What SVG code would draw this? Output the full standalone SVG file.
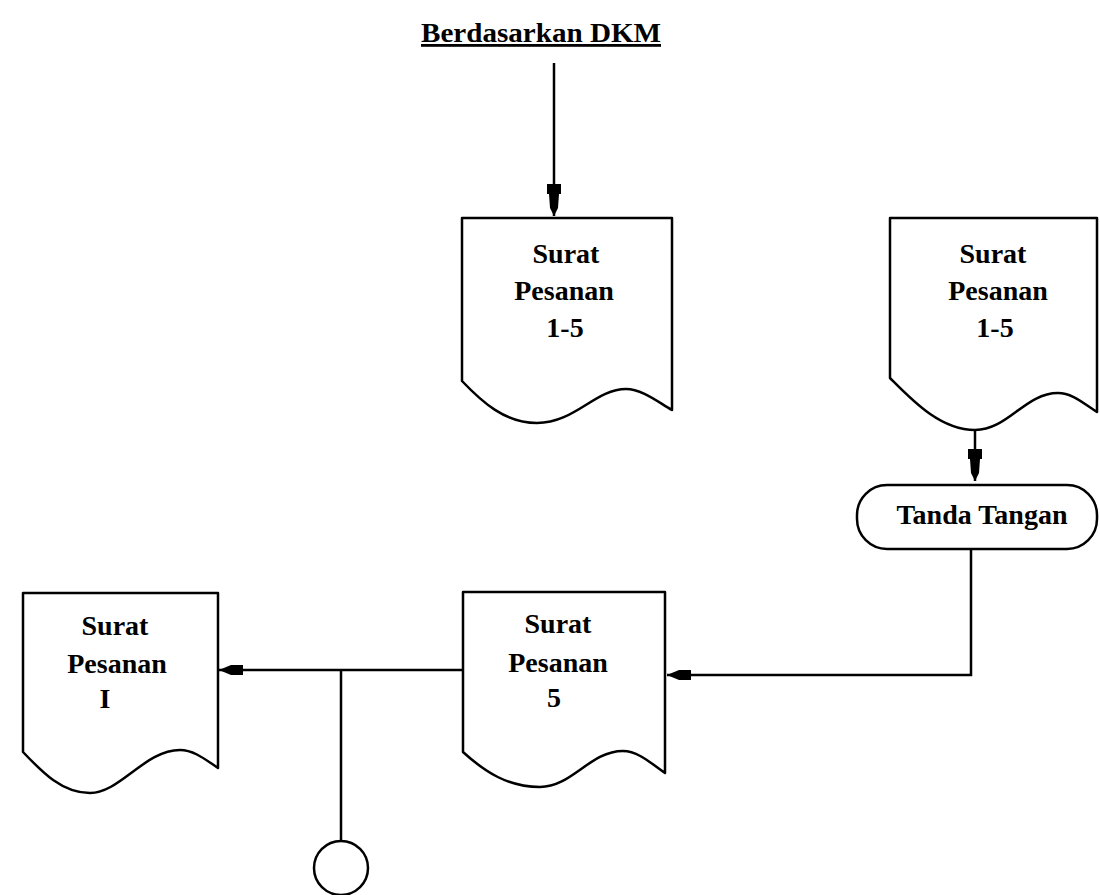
<svg xmlns="http://www.w3.org/2000/svg" width="1100" height="895" viewBox="0 0 1100 895">
<style>
.shape{fill:#fff;stroke:#000;stroke-width:2.5;stroke-linejoin:round}
.conn{fill:none;stroke:#000;stroke-width:2.5}
.lbl{font-family:"Liberation Serif","Times New Roman",serif;font-weight:bold;font-size:28px;fill:#000;text-anchor:middle}
</style>
<defs>
<marker id="ahV" markerUnits="userSpaceOnUse" markerWidth="34" markerHeight="20" refX="32" refY="10" orient="auto">
<path d="M0,3 L10,3 L10,5 L24,6 L32,10 L24,14 L10,15 L10,17 L0,17 Z" fill="#000"/>
</marker>
<marker id="ahH" markerUnits="userSpaceOnUse" markerWidth="26" markerHeight="16" refX="24" refY="8" orient="auto">
<path d="M0,3 L12,3 L24,8 L12,13 L0,13 Z" fill="#000"/>
</marker>
</defs>
<g id="title">
<text class="lbl" x="541" y="42" font-size="29" style="text-decoration:underline" textLength="240" lengthAdjust="spacingAndGlyphs">Berdasarkan DKM</text>
</g>
<g id="connectors">
<path class="conn" d="M554,63 V216" marker-end="url(#ahV)"/>
<path class="conn" d="M975,430 V481" marker-end="url(#ahV)"/>
<path class="conn" d="M971,549 V675 H667" marker-end="url(#ahH)"/>
<path class="conn" d="M463,670 H219" marker-end="url(#ahH)"/>
<path class="conn" d="M341,670 V842"/>
</g>
<g id="doc1">
<path class="shape" d="M462,218 H672 V410 C658,402 642,389 626,389 C595,389 575,423 537,423 C505,423 482,402 462,381 Z"/>
<text class="lbl" x="566" y="263">Surat</text>
<text class="lbl" x="564" y="300">Pesanan</text>
<text class="lbl" x="565" y="337">1-5</text>
</g>
<g id="doc2">
<path class="shape" d="M890,218 H1097 V412 C1083,403 1072,393 1058,393 C1025,393 1008,430 975,430 C940,430 912,400 890,378 Z"/>
<text class="lbl" x="993" y="263">Surat</text>
<text class="lbl" x="998" y="300">Pesanan</text>
<text class="lbl" x="995" y="337">1-5</text>
</g>
<g id="tanda">
<rect class="shape" x="857" y="485" width="240" height="64" rx="30" ry="30"/>
<text class="lbl" x="982" y="524">Tanda Tangan</text>
</g>
<g id="doc3">
<path class="shape" d="M463,592 H665 V773 C652,764 638,751 623,751 C590,751 572,787 540,787 C508,787 485,772 463,752 Z"/>
<text class="lbl" x="558" y="633">Surat</text>
<text class="lbl" x="558" y="672">Pesanan</text>
<text class="lbl" x="554" y="707">5</text>
</g>
<g id="doc4">
<path class="shape" d="M23,593 H218 V768 C206,760 194,750 180,750 C145,750 120,793 90,793 C62,793 42,772 23,752 Z"/>
<text class="lbl" x="115" y="635">Surat</text>
<text class="lbl" x="117" y="673">Pesanan</text>
<text class="lbl" x="105" y="708">I</text>
</g>
<g id="connector-circle">
<circle class="shape" cx="341" cy="868" r="27"/>
</g>
</svg>
